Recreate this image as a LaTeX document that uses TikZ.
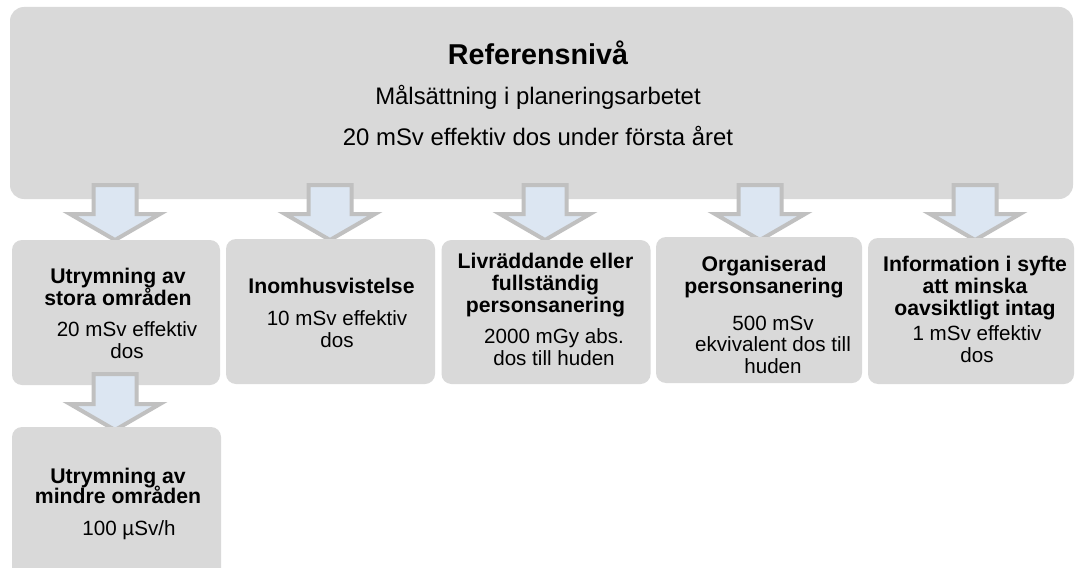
\documentclass[tikz,border=0pt]{standalone}
\usepackage{fontspec}
\setmainfont{Liberation Sans}
\definecolor{boxgray}{RGB}{217,217,217}
\definecolor{arrowfill}{RGB}{220,230,242}
\definecolor{arrowline}{RGB}{192,192,192}
\tikzset{
  panel/.style={fill=boxgray, draw=none, rounded corners=10pt, inner sep=0pt},
  bigpanel/.style={fill=boxgray, draw=none, rounded corners=14pt, inner sep=0pt},
  titletxt/.style={inner sep=0pt, anchor=base, font=\fontsize{28.7}{30}\selectfont\bfseries},
  subtxt/.style={inner sep=0pt, anchor=base, font=\fontsize{23.9}{26}\selectfont},
  headtxt/.style={inner sep=0pt, anchor=base, align=center, font=\fontsize{21.2}{21.8}\selectfont\bfseries},
  valtxt/.style={inner sep=0pt, anchor=base, align=center, font=\fontsize{20.6}{21.4}\selectfont},
  blockarrow/.style={fill=arrowfill, draw=arrowline, line width=4pt, line join=miter}
}
\newcommand{\downarr}[3]{%
  \draw[blockarrow] (#1-21.5,#2) -- (#1+21.5,#2) -- (#1+21.5,#3-26) -- (#1+45,#3-26)
    -- (#1,#3) -- (#1-45,#3-26) -- (#1-21.5,#3-26) -- cycle;}
\lineskiplimit=-50pt
\begin{document}
\begin{tikzpicture}[x=1pt,y=-1pt]
\useasboundingbox (0,0) rectangle (1075,567);
\clip (0,0) rectangle (1075,567);
\fill[white] (0,0) rectangle (1075,567);

% top panel
\node[bigpanel, minimum width=1063pt, minimum height=192pt] (top) at (541.5,103) {};
\node[titletxt] (t1) at (538,65) {Referensnivå};
\node[subtxt] (t2) at (538,105) {Målsättning i planeringsarbetet};
\node[subtxt] (t3) at (538,145) {20 mSv effektiv dos under första året};

% arrows from top panel
\downarr{115}{185}{240}
\downarr{330}{185}{240}
\downarr{545}{185}{240}
\downarr{760}{185}{240}
\downarr{975}{185}{240}

% row of panels
\node[panel, minimum width=208pt, minimum height=145pt] (b1) at (116,312.5) {};
\node[panel, minimum width=209pt, minimum height=145pt] (b2) at (330.5,311.5) {};
\node[panel, minimum width=209pt, minimum height=144pt] (b3) at (546,312) {};
\node[panel, minimum width=206pt, minimum height=146pt] (b4) at (759,310) {};
\node[panel, minimum width=206pt, minimum height=146pt] (b5) at (971,311) {};

% arrow to lower panel
\downarr{115}{374}{430}

% lower panel
\node[panel, minimum width=209pt, minimum height=180pt] (b6) at (116.5,517) {};

% texts (anchor = baseline of the last line)
\node[headtxt] (h1) at (118,305) {Utrymning av\\stora områden};
\node[valtxt] (v1) at (127,358) {20 mSv effektiv\\dos};

\node[headtxt] (h2) at (331.5,293) {Inomhusvistelse};
\node[valtxt] (v2) at (337,347) {10 mSv effektiv\\dos};

\node[headtxt] (h3) at (545.5,312) {Livräddande eller\\fullständig\\personsanering};
\node[valtxt] (v3) at (554,365) {2000 mGy abs.\\dos till huden};

\node[headtxt] (h4) at (764,293) {Organiserad\\personsanering};
\node[valtxt] (v4) at (773,373) {500 mSv\\ekvivalent dos till\\huden};

\node[headtxt] (h5) at (975,315) {Information i syfte\\att minska\\oavsiktligt intag};
\node[valtxt] (v5) at (977,362) {1 mSv effektiv\\dos};

\node[headtxt, font=\fontsize{21.2}{19.5}\selectfont\bfseries] (h6) at (118,503) {Utrymning av\\mindre områden};
\node[valtxt] (v6) at (129,535) {100 µSv/h};
\end{tikzpicture}
\end{document}
